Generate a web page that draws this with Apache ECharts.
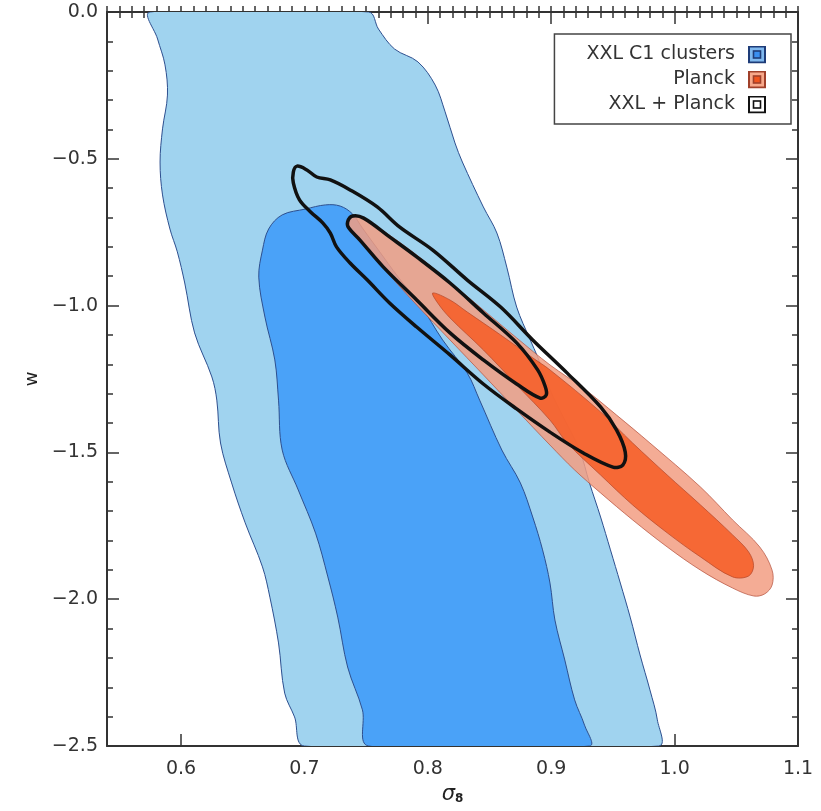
<!DOCTYPE html>
<html>
<head>
<meta charset="utf-8">
<script src="https://cdn.jsdelivr.net/npm/echarts@6/dist/echarts.min.js"></script>
<style>html,body{margin:0;padding:0;background:#fff}#c{width:821px;height:811px}</style>
</head>
<body>
<div id="c"></div>
<script>
// ---- data (sigma_8, w) contour outlines ----
const xTicks = [0.6, 0.7, 0.8, 0.9, 1.0, 1.1];
const yTicks = [0.0, -0.5, -1.0, -1.5, -2.0, -2.5];
const seriesNames = ['XXL C1 clusters', 'Planck', 'XXL + Planck'];

const xxlOuter = [
[0.575,0],[0.581,-0.092],[0.587,-0.180],[0.589,-0.283],[0.585,-0.398],[0.583,-0.511],[0.585,-0.623],[0.591,-0.739],[0.597,-0.817],[0.603,-0.923],[0.611,-1.093],[0.625,-1.243],[0.629,-1.322],[0.632,-1.468],[0.641,-1.604],[0.652,-1.740],[0.666,-1.890],[0.672,-1.993],[0.679,-2.149],[0.684,-2.320],[0.692,-2.401],[0.700,-2.5],
[0.987,-2.5],[0.986,-2.411],[0.980,-2.309],[0.972,-2.190],[0.964,-2.061],[0.956,-1.945],[0.948,-1.832],[0.940,-1.720],[0.931,-1.604],[0.923,-1.492],[0.911,-1.390],[0.899,-1.287],[0.889,-1.175],[0.883,-1.117],[0.872,-1.005],[0.864,-0.869],[0.856,-0.753],[0.845,-0.664],[0.828,-0.511],[0.822,-0.446],[0.814,-0.340],[0.806,-0.249],[0.792,-0.170],[0.773,-0.126],[0.760,-0.058],[0.752,0]
];
const xxlInner = [
[0.701,-0.671],[0.682,-0.691],[0.671,-0.739],[0.666,-0.811],[0.663,-0.903],[0.668,-1.039],[0.676,-1.185],[0.679,-1.322],[0.682,-1.492],[0.695,-1.628],[0.709,-1.775],[0.719,-1.924],[0.727,-2.061],[0.735,-2.231],[0.747,-2.377],[0.752,-2.5],
[0.931,-2.5],[0.927,-2.429],[0.919,-2.343],[0.911,-2.207],[0.903,-2.071],[0.899,-1.945],[0.893,-1.832],[0.885,-1.720],[0.875,-1.604],[0.860,-1.492],[0.842,-1.322],[0.832,-1.230],[0.812,-1.117],[0.794,-0.998],[0.776,-0.903],[0.760,-0.811],[0.747,-0.736],[0.739,-0.688],[0.729,-0.661],[0.717,-0.657]
];
const planckOuter = [
[0.735,-0.708],[0.745,-0.698],[0.764,-0.746],[0.791,-0.828],[0.818,-0.920],[0.845,-1.015],[0.872,-1.110],[0.899,-1.202],[0.926,-1.281],[0.953,-1.373],[0.980,-1.468],[1.021,-1.618],[1.047,-1.730],[1.069,-1.822],[1.079,-1.901],[1.079,-1.952],[1.073,-1.982],[1.064,-1.989],[1.047,-1.962],[1.021,-1.901],[0.994,-1.822],[0.966,-1.730],[0.940,-1.638],[0.919,-1.560],[0.899,-1.475],[0.872,-1.356],[0.845,-1.236],[0.818,-1.117],[0.791,-0.998],[0.769,-0.896],[0.753,-0.817],[0.741,-0.760],[0.736,-0.732]
];
const planckInner = [
[0.804,-0.957],[0.818,-0.981],[0.832,-1.022],[0.859,-1.100],[0.885,-1.178],[0.899,-1.219],[0.940,-1.362],[0.966,-1.468],[0.994,-1.577],[1.021,-1.679],[1.047,-1.781],[1.060,-1.839],[1.064,-1.886],[1.060,-1.921],[1.047,-1.924],[1.021,-1.856],[0.994,-1.774],[0.966,-1.679],[0.940,-1.577],[0.913,-1.468],[0.899,-1.390],[0.872,-1.270],[0.845,-1.151],[0.818,-1.042],[0.808,-0.991]
];
const comboOuter = [
[0.691,-0.545],[0.694,-0.525],[0.702,-0.538],[0.710,-0.562],[0.721,-0.572],[0.737,-0.606],[0.759,-0.664],[0.777,-0.732],[0.804,-0.811],[0.832,-0.913],[0.859,-1.005],[0.885,-1.117],[0.913,-1.230],[0.940,-1.345],[0.953,-1.424],[0.960,-1.499],[0.958,-1.543],[0.950,-1.550],[0.926,-1.502],[0.899,-1.431],[0.872,-1.352],[0.845,-1.267],[0.818,-1.168],[0.791,-1.073],[0.769,-0.991],[0.751,-0.913],[0.737,-0.855],[0.726,-0.800],[0.721,-0.753],[0.715,-0.719],[0.705,-0.681],[0.696,-0.640],[0.691,-0.582]
];
const comboInner = [
[0.735,-0.715],[0.739,-0.695],[0.748,-0.702],[0.769,-0.766],[0.791,-0.834],[0.818,-0.923],[0.845,-1.025],[0.872,-1.127],[0.889,-1.219],[0.895,-1.274],[0.896,-1.304],[0.891,-1.315],[0.872,-1.267],[0.845,-1.185],[0.818,-1.093],[0.791,-0.981],[0.764,-0.869],[0.745,-0.777],[0.736,-0.736]
];

// ---- styling ----
const FONT = 'DejaVu Sans';
const AX = '#333';
const contourSets = [
  {name: seriesNames[0], shapes: [xxlOuter, xxlInner], styles: [
    {fill:'#a0d3ef', stroke:'#2d4f8f', lineWidth:1},
    {fill:'#4aa2f8', stroke:'#2d4f8f', lineWidth:1}]},
  {name: seriesNames[1], shapes: [planckOuter, planckInner], styles: [
    {fill:'rgba(242,158,130,0.85)', stroke:'rgba(180,80,60,0.7)', lineWidth:1},
    {fill:'rgba(245,98,45,0.92)', stroke:'rgba(180,70,40,0.7)', lineWidth:1}]},
  {name: seriesNames[2], shapes: [comboOuter, comboInner], styles: [
    {fill:'none', stroke:'#111', lineWidth:3.5, lineJoin:'round'},
    {fill:'none', stroke:'#111', lineWidth:3.5, lineJoin:'round'}]}
];

function svgIcon(outer, inner, stroke) {
  const s = '<svg xmlns="http://www.w3.org/2000/svg" width="18" height="18" viewBox="0 0 18 18">' +
    '<rect x="1" y="1" width="16" height="16" fill="' + outer + '" stroke="' + stroke + '" stroke-width="2"/>' +
    '<rect x="5.5" y="5.5" width="7" height="7" fill="' + inner + '" stroke="' + stroke + '" stroke-width="1.6"/></svg>';
  return 'image://data:image/svg+xml;charset=utf-8,' + encodeURIComponent(s);
}
const legendIcons = [
  svgIcon('#7fb8ee', '#3a8ff0', '#1e3c78'),
  svgIcon('#f7a88a', '#f0541e', '#a0402a'),
  svgIcon('#ffffff', '#ffffff', '#111111')
];

const chart = echarts.init(document.getElementById('c'));

function tickAxisX(pos, withLabel) {
  return {
    type:'value', min:0.54, max:1.1, position:pos,
    axisLine:{show:true, onZero:false, lineStyle:{color:AX, width:2}},
    axisTick:{show:true, inside:true, length:12, customValues:xTicks, lineStyle:{color:AX, width:1.5}},
    axisLabel:{show:withLabel, customValues:xTicks, formatter:v=>v.toFixed(1), margin:14,
      fontFamily:FONT, fontSize:19, color:AX},
    splitLine:{show:false},
    name: withLabel ? '{s|σ}{b|8}' : '',
    nameLocation:'middle', nameGap:37,
    nameTextStyle:{rich:{
      s:{fontFamily:FONT, fontSize:21, fontStyle:'italic', color:'#222'},
      b:{fontFamily:FONT, fontSize:12, fontWeight:'bold', color:'#222', verticalAlign:'bottom', padding:[8,0,0,0]}}}
  };
}
function minorAxisX(pos) {
  return {
    type:'value', min:0.54, max:1.1, interval:0.01, position:pos,
    axisLine:{show:false}, axisLabel:{show:false}, splitLine:{show:false},
    axisTick:{show:true, inside:true, length:6, lineStyle:{color:AX, width:1.5}}
  };
}
function axisY(pos, withLabel) {
  return {
    type:'value', min:-2.5, max:0, interval:0.5, position:pos,
    axisLine:{show:true, onZero:false, lineStyle:{color:AX, width:2}},
    axisTick:{show:true, inside:true, length:12, lineStyle:{color:AX, width:1.5}},
    minorTick:{show:true, splitNumber:5, length:6, lineStyle:{color:AX, width:1.5}},
    axisLabel:{show:withLabel, margin:9, fontFamily:FONT, fontSize:19, color:AX,
      formatter:v => (Math.abs(v) < 1e-9 ? '0.0' : (v < 0 ? '\u2212' : '') + Math.abs(v).toFixed(1))},
    splitLine:{show:false}, minorSplitLine:{show:false},
    name: withLabel ? 'w' : '', nameLocation:'middle', nameGap:66, nameRotate:90,
    nameTextStyle:{fontFamily:FONT, fontSize:18, color:'#222'}
  };
}

const series = contourSets.map(set => ({
  type:'custom', name:set.name, coordinateSystem:'cartesian2d', xAxisIndex:0, yAxisIndex:0,
  clip:true, silent:true,
  data: set.shapes.map((s, i) => [i]),
  encode:{x:0},
  renderItem:(params, api) => {
    const pts = set.shapes[params.dataIndex].map(p => api.coord(p));
    return {type:'polygon', shape:{points:pts, smooth:0.35}, style:set.styles[params.dataIndex]};
  }
}));

chart.setOption({
  animation:false,
  backgroundColor:'#fff',
  grid:{left:107, right:23, top:12, bottom:65},
  xAxis:[tickAxisX('bottom', true), minorAxisX('bottom'), tickAxisX('top', false), minorAxisX('top')],
  yAxis:[axisY('left', true), axisY('right', false)],
  legend:{
    orient:'vertical', right:30, top:34, align:'right',
    itemWidth:18, itemHeight:18, itemGap:6,
    padding:[11, 25, 10, 32],
    borderColor:'#444', borderWidth:1.5, backgroundColor:'#fff',
    selectedMode:false,
    textStyle:{fontFamily:FONT, fontSize:19, color:'#333', padding:[0, 8, 0, 0]},
    data: seriesNames.map((n, i) => ({name:n, icon:legendIcons[i]}))
  },
  series: series
});
</script>
</body>
</html>
